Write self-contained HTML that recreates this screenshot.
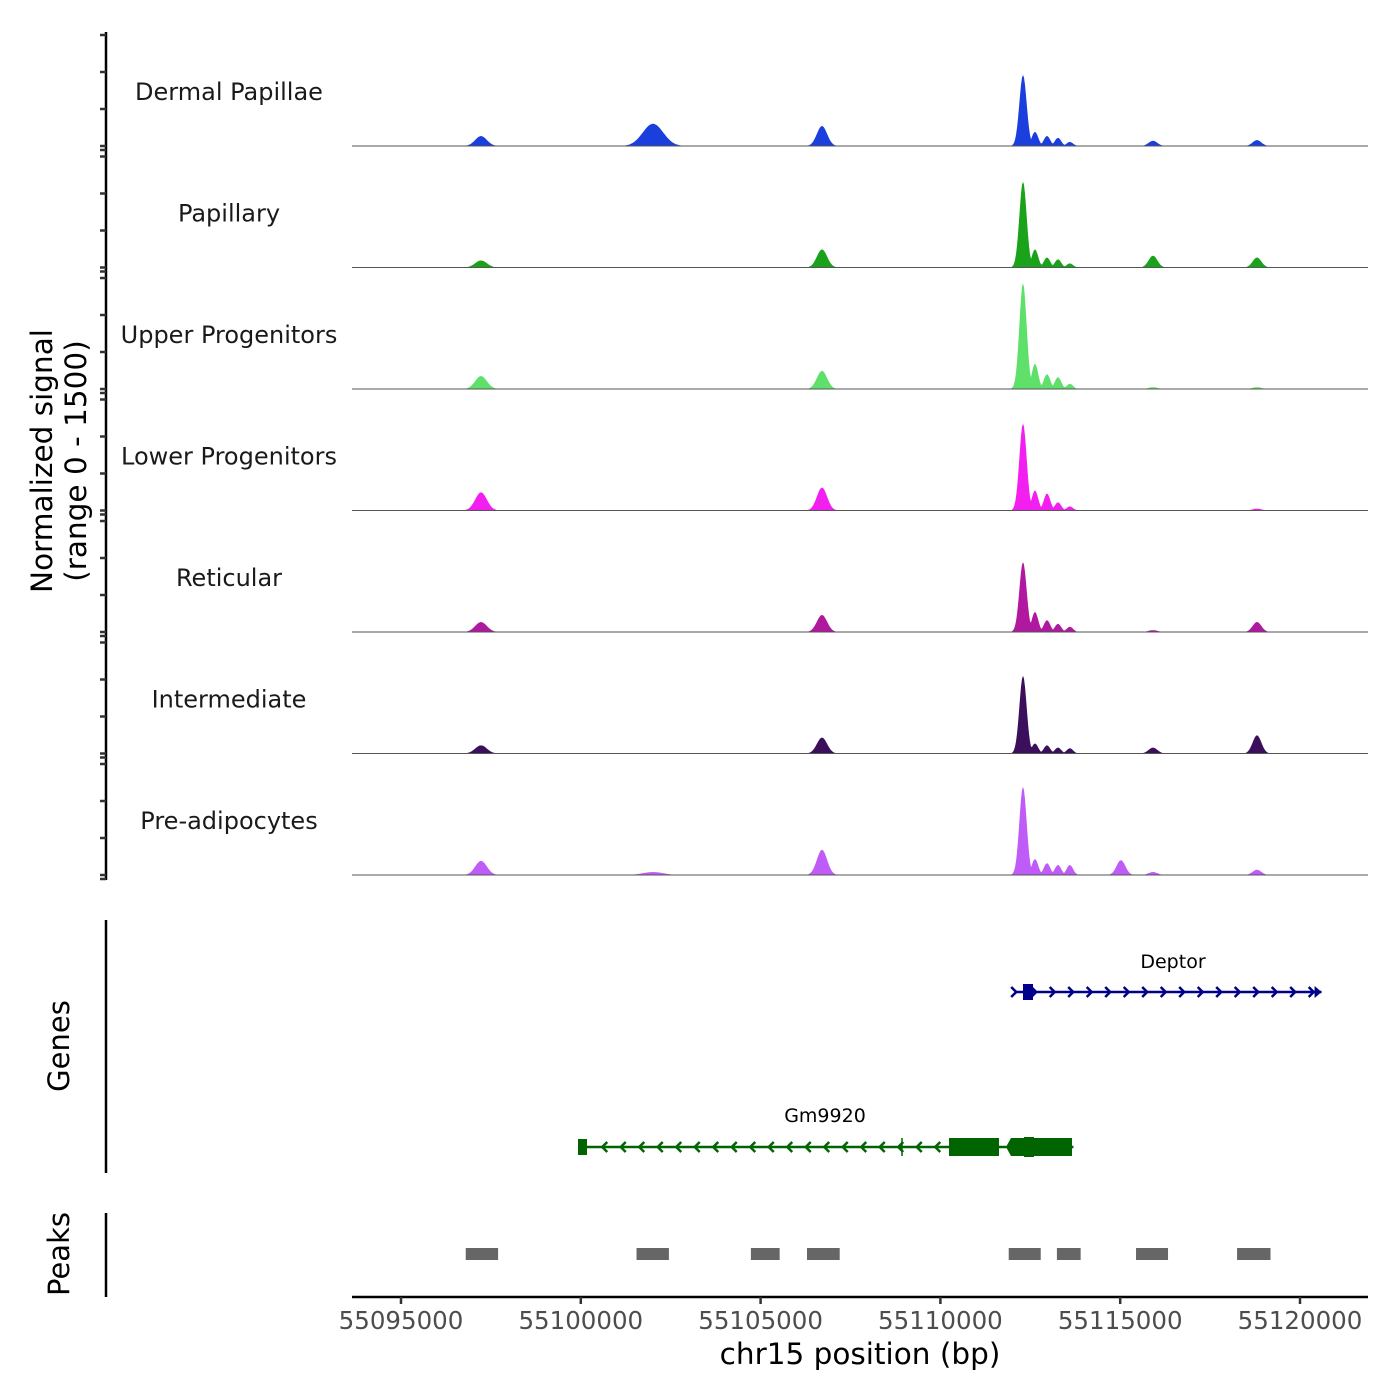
<!DOCTYPE html>
<html><head><meta charset="utf-8"><style>
body{margin:0;background:#fff}
svg{display:block;font-family:"DejaVu Sans","Liberation Sans",sans-serif}
</style></head><body>
<svg id="chart" width="1400" height="1400" viewBox="0 0 1400 1400">
<g id="tracks"></g>
<g id="yaxis"></g>
<g id="genes"></g>
<g id="peaks"></g>
<g id="xaxis"></g>
<text transform="translate(52,461) rotate(-90)" text-anchor="middle" font-size="29.5" fill="#000">Normalized signal</text>
<text transform="translate(86,461) rotate(-90)" text-anchor="middle" font-size="29.5" fill="#000">(range 0 - 1500)</text>
<text transform="translate(69,1046) rotate(-90)" text-anchor="middle" font-size="29" fill="#000">Genes</text>
<text transform="translate(69,1254) rotate(-90)" text-anchor="middle" font-size="29" fill="#000">Peaks</text>
<text x="860" y="1364" text-anchor="middle" font-size="29.5" fill="#000">chr15 position (bp)</text>
</svg>
<script>
const xTicks=[55095000,55100000,55105000,55110000,55115000,55120000];
const trackNames=["Dermal Papillae","Papillary","Upper Progenitors","Lower Progenitors","Reticular","Intermediate","Pre-adipocytes"];
const trackColors=["#1a3fdd","#1aa31a","#5ee06a","#f21ff0","#b0189f","#3c0f5c","#bf5bf7"];
const peakPositions=[55097225,55102008,55106707,55112297,55112630,55112965,55113270,55113600,55115020,55115912,55118804];
const dermalValues=[135,300,270,960,190,135,110,55,0,70,80];
const papillaryValues=[95,0,245,1160,245,135,110,55,0,160,135];
const upperValues=[175,0,245,1430,340,200,160,70,0,25,25];
const lowerValues=[245,0,310,1175,270,230,110,55,0,0,25];
const reticularValues=[135,0,230,945,270,160,110,70,0,25,135];
const intermediateValues=[110,0,215,1050,135,110,80,70,0,80,245];
const preadipoValues=[190,40,340,1190,215,160,135,135,200,40,70];
const trackValues=[dermalValues,papillaryValues,upperValues,lowerValues,reticularValues,intermediateValues,preadipoValues];
const peakWidths=[400,700,350,350,220,220,220,220,300,300,300];
const geneNames=["Deptor","Gm9920"];
const geneStarts=[55112080,55100040];
const geneEnds=[55120600,55113700];
const geneStrands=[1,-1];
const atacPeakStarts=[55096800,55101550,55104730,55106290,55111900,55113240,55115440,55118250];
const atacPeakEnds=[55097700,55102450,55105530,55107200,55112790,55113900,55116330,55119180];

const NS="http://www.w3.org/2000/svg";
const X0=401,PX=899/25000;
const xs=bp=>X0+(bp-55095000)*PX;
const baselines=[146,267.5,389,510.5,632,753.5,875];
const ys=(v,b)=>b-v/1500*111;
function mk(tag,attrs,parent){const e=document.createElementNS(NS,tag);for(const k in attrs)e.setAttribute(k,attrs[k]);parent.appendChild(e);return e;}
const tracks=document.getElementById('tracks');
trackValues.forEach((vals,t)=>{
  const b=baselines[t];
  const g=mk('g',{},tracks);
  
  
  const lbl=mk('text',{x:229,y:b-46,'text-anchor':'middle','font-size':'24',fill:'#1a1a1a'},g);
  lbl.textContent=trackNames[t];
  
  
  let d='M352,'+b;
  for(let x=352;x<=1368;x+=1){
    const bp=55095000+(x-X0)/PX;let v=0;
    vals.forEach((h,i)=>{const w=peakWidths[i];const dx=(bp-peakPositions[i])/w;
      if(Math.abs(dx)<3){v=Math.max(v,h*Math.exp(-dx*dx*(i===3?6:3)));}});
    d+=' L'+x+','+ys(v,b).toFixed(1);
  }
  d+=' L1368,'+b+' Z';
  const p=mk('path',{d:d,fill:trackColors[t],stroke:'none'},g);
  
  
  const bl=mk('line',{x1:352,x2:1368,y1:b,y2:b,stroke:'#555','stroke-width':1},g);
  
  
});
const ya=document.getElementById('yaxis');
mk('line',{x1:106,x2:106,y1:32,y2:880,stroke:'#000','stroke-width':2.5},ya);
baselines.forEach(b=>{[0,500,1000,1500].forEach(v=>{const y=ys(v,b);mk('line',{x1:100,x2:106,y1:y,y2:y,stroke:'#333','stroke-width':2.5},ya);});
  mk('line',{x1:100,x2:106,y1:b+4,y2:b+4,stroke:'#333','stroke-width':2.5},ya);});
const gg=document.getElementById('genes');
mk('line',{x1:106,x2:106,y1:920,y2:1173,stroke:'#000','stroke-width':2.5},gg);
const geneY=[992,1147],geneCol=["#00008b","#006400"],labY=[968,1122];
geneNames.forEach((n,i)=>{
  const g=mk('g',{},gg);
  
  
  const x1=xs(geneStarts[i]),x2=xs(geneEnds[i]),y=geneY[i],c=geneCol[i];
  mk('line',{x1:x1,x2:x2,y1:y,y2:y,stroke:c,'stroke-width':2.5},g);
  const t=mk('text',{x:(i===0?1173:825),y:labY[i],'text-anchor':'middle','font-size':'19',fill:'#000'},g);
  t.textContent=n;
  
  
  const s=geneStrands[i];
  const endA=i===0?x2:948;
  for(let ax=(i===0?x1+21:x1+20);ax<endA-4;ax+=18.5){
    const dx=s*5;
    mk('polyline',{points:`${ax-dx},${y-5} ${ax},${y} ${ax-dx},${y+5}`,fill:'none',stroke:c,'stroke-width':2.5},g);
  }
  if(i===0){mk('rect',{x:1023,y:y-8,width:10,height:16,fill:c},g);
    mk('polyline',{points:`${x1-4},${y-5} ${x1+1},${y} ${x1-4},${y+5}`,fill:'none',stroke:c,'stroke-width':2.5},g);
    mk('polygon',{points:`${x2-7},${y-6} ${x2},${y} ${x2-7},${y+6}`,fill:c},g);}
  else{mk('rect',{x:578,y:y-8,width:9,height:16,fill:c},g);
    mk('rect',{x:949,y:y-9,width:50,height:18,fill:c},g);
    mk('polygon',{points:`1006,${y} 1011,${y-9} 1072,${y-9} 1072,${y+9} 1011,${y+9}`,fill:c},g);
    mk('rect',{x:1024,y:y-10,width:10,height:20,fill:c},g);
    mk('line',{x1:902,x2:902,y1:y-9,y2:y+9,stroke:c,'stroke-width':1.5},g);}
});
const pg=document.getElementById('peaks');
mk('line',{x1:106,x2:106,y1:1213,y2:1297,stroke:'#000','stroke-width':2.5},pg);
atacPeakStarts.forEach((s,i)=>{
  const r=mk('rect',{x:xs(s),y:1248,width:xs(atacPeakEnds[i])-xs(s),height:12,fill:'#666'},pg);
  
  
});
const xa=document.getElementById('xaxis');
mk('line',{x1:352,x2:1368,y1:1297,y2:1297,stroke:'#000','stroke-width':2.5},xa);
xTicks.forEach(v=>{const x=xs(v);
  mk('line',{x1:x,x2:x,y1:1297,y2:1304,stroke:'#333','stroke-width':2.5},xa);
  const t=mk('text',{x:x,y:1329,'text-anchor':'middle','font-size':'24.5',fill:'#4d4d4d'},xa);
  t.textContent=String(v);
  
  
});
</script>
</body></html>
